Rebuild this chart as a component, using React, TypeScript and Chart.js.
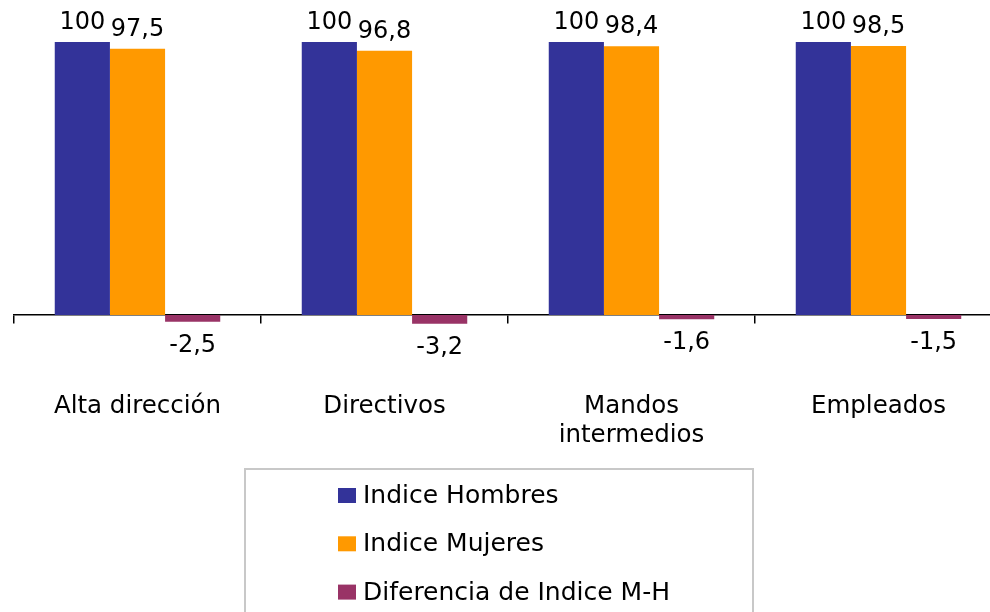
import React, { useEffect, useRef } from "react";
import { Chart, registerables } from "chart.js";

Chart.register(...registerables);

const categories: (string | string[])[] = [
  "Alta dirección",
  "Directivos",
  ["Mandos", "intermedios"],
  "Empleados",
];
const seriesNames = ["Indice Hombres", "Indice Mujeres", "Diferencia de Indice M-H"];
const indiceHombres = [100, 100, 100, 100];
const indiceMujeres = [97.5, 96.8, 98.4, 98.5];
const diferencia = [-2.5, -3.2, -1.6, -1.5];
const seriesColors = ["#333399", "#FF9900", "#993366"];

const FONT = "'DejaVu Sans', Verdana, sans-serif";

function fmt(v: number): string {
  return Number.isInteger(v) ? String(v) : v.toFixed(1).replace(".", ",");
}

const labelsPlugin = {
  id: "valueLabels",
  afterDatasetsDraw(chart: any) {
    const ctx = chart.ctx;
    ctx.save();
    ctx.font = `24px ${FONT}`;
    ctx.fillStyle = "#000";
    ctx.textAlign = "center";
    ctx.textBaseline = "alphabetic";
    chart.data.datasets.forEach((ds: any, di: number) => {
      const meta = chart.getDatasetMeta(di);
      meta.data.forEach((el: any, i: number) => {
        const v = ds.data[i] as number;
        const y = v >= 0 ? el.y - 13 : el.y + 30;
        ctx.fillText(fmt(v), el.x, y);
      });
    });
    ctx.restore();
  },
  afterDraw(chart: any) {
    const ctx = chart.ctx;
    ctx.save();
    ctx.fillStyle = "#fff";
    ctx.fillRect(245, 469, 508, 200);
    ctx.strokeStyle = "#c8c8c8";
    ctx.lineWidth = 2;
    ctx.strokeRect(245, 469, 508, 200);
    ctx.font = `25px ${FONT}`;
    ctx.textAlign = "left";
    ctx.textBaseline = "alphabetic";
    chart.data.datasets.forEach((ds: any, di: number) => {
      const base = 503 + di * 48.3;
      ctx.fillStyle = ds.backgroundColor;
      ctx.fillRect(338, base - 15, 18, 15);
      ctx.fillStyle = "#000";
      ctx.fillText(ds.label, 363, base);
    });
    ctx.restore();
  },
};

export default function App() {
  const ref = useRef<HTMLCanvasElement>(null);
  useEffect(() => {
    if (!ref.current) return;
    const data = [indiceHombres, indiceMujeres, diferencia];
    const chart = new Chart(ref.current, {
      type: "bar",
      data: {
        labels: categories,
        datasets: data.map((d, i) => ({
          label: seriesNames[i],
          data: d,
          backgroundColor: seriesColors[i],
          borderWidth: 0,
          categoryPercentage: 0.67,
          barPercentage: 1.0,
        })),
      },
      options: {
        animation: false,
        responsive: false,
        devicePixelRatio: 1,
        layout: { padding: { left: 14, right: 8, top: 14.7, bottom: 242.4 } },
        plugins: { legend: { display: false }, tooltip: { enabled: false } },
        scales: {
          y: { display: false, min: -20, max: 110 },
          x: {
            position: { y: 0 } as any,
            offset: true,
            afterFit: (scale: any) => {
              scale.paddingLeft = 0;
              scale.paddingRight = 0;
            },
            grid: {
              display: true,
              drawOnChartArea: false,
              drawTicks: true,
              tickLength: 8,
              offset: true,
              color: "#000",
              lineWidth: 1.5,
            },
            border: { display: true, color: "#000", width: 1.5 },
            ticks: {
              color: "#000",
              font: { family: FONT, size: 24.5, lineHeight: 1.15 },
              padding: 70,
              maxRotation: 0,
              minRotation: 0,
              autoSkip: false,
            },
          },
        },
      },
      plugins: [labelsPlugin],
    });
    return () => chart.destroy();
  }, []);
  return (
    <div
      style={{
        position: "fixed",
        left: 0,
        top: 0,
        width: 990,
        height: 612,
        overflow: "hidden",
        background: "#fff",
      }}
    >
      <canvas ref={ref} width={1010} height={612} style={{ display: "block" }} />
    </div>
  );
}
